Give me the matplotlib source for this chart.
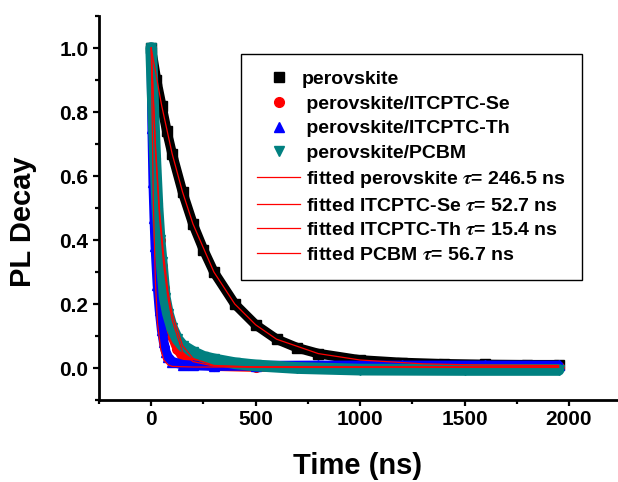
import numpy as np
import matplotlib
matplotlib.use("Agg")
import matplotlib.pyplot as plt
from matplotlib.ticker import MultipleLocator

# PL decay (time in ns, normalised intensity)
t_pero = [0, 25, 50, 75, 100, 150, 200, 250, 300, 400, 500, 600, 700, 800, 1000, 1200, 1400, 1600, 1800, 1950]
pl_pero = [1.0, 0.90, 0.82, 0.74, 0.67, 0.55, 0.45, 0.37, 0.30, 0.20, 0.135, 0.09, 0.063, 0.045, 0.025, 0.017, 0.013, 0.011, 0.010, 0.010]

t_se = [0, 10, 20, 30, 40, 50, 60, 80, 100, 125, 150, 200, 300, 500, 1000, 1500, 1950]
pl_se = [1.0, 0.78, 0.62, 0.50, 0.40, 0.32, 0.25, 0.16, 0.10, 0.06, 0.035, 0.015, 0.006, 0.003, 0.002, 0.002, 0.002]

t_th = [0, 5, 10, 15, 20, 30, 40, 50, 60, 70, 80, 100, 150, 200, 300, 500, 800, 1200, 1600, 1950]
pl_th = [1.0, 0.75, 0.58, 0.47, 0.38, 0.26, 0.18, 0.12, 0.08, 0.05, 0.035, 0.02, 0.01, 0.008, 0.006, 0.007, 0.008, 0.008, 0.008, 0.008]

t_pcbm = [0, 10, 20, 30, 40, 50, 65, 80, 100, 125, 150, 200, 250, 300, 400, 500, 700, 1000, 1500, 1950]
pl_pcbm = [1.0, 0.80, 0.64, 0.50, 0.40, 0.33, 0.22, 0.17, 0.125, 0.09, 0.07, 0.05, 0.035, 0.027, 0.015, 0.008, 0.0, -0.005, -0.006, -0.006]

# fitted curves (red lines)
t_fit_pero = [0, 50, 100, 150, 200, 300, 400, 500, 600, 800, 1000, 1300, 1600, 1950]
fit_pero = [1.0, 0.82, 0.67, 0.55, 0.45, 0.30, 0.20, 0.135, 0.09, 0.045, 0.025, 0.013, 0.009, 0.008]
t_fit_se = [0, 20, 40, 60, 80, 100, 150, 200, 300, 500, 1950]
fit_se = [1.0, 0.68, 0.47, 0.32, 0.22, 0.15, 0.05, 0.02, 0.006, 0.003, 0.003]
t_fit_th = [0, 10, 20, 30, 45, 60, 80, 100, 200, 1950]
fit_th = [1.0, 0.52, 0.27, 0.14, 0.06, 0.025, 0.01, 0.005, 0.003, 0.003]
t_fit_pcbm = [0, 20, 40, 60, 80, 100, 150, 200, 300, 500, 1950]
fit_pcbm = [1.0, 0.70, 0.49, 0.35, 0.24, 0.17, 0.07, 0.03, 0.008, 0.003, 0.003]

plt.rcParams["font.family"] = ["Liberation Sans", "DejaVu Sans"]
plt.rcParams["font.weight"] = "bold"
plt.rcParams["mathtext.fontset"] = "stix"

fig = plt.figure(figsize=(6.18, 4.82), dpi=100)
ax = fig.add_axes([99 / 618, 82 / 482, 518 / 618, 384 / 482])

# data drawn as thick bands (dense points in the original) plus markers
series = [
    (t_pero, pl_pero, "black", "s", "perovskite", 7),
    (t_se, pl_se, "red", "o", " perovskite/ITCPTC-Se", 7),
    (t_th, pl_th, "blue", "^", " perovskite/ITCPTC-Th", 7),
    (t_pcbm, pl_pcbm, "#008080", "v", " perovskite/PCBM", 8.5),
]
for t, v, c, m, lab, w in series:
    ax.plot(t, v, color=c, lw=w, solid_capstyle="round", solid_joinstyle="round")
    ax.plot(t, v, ls="none", marker=m, color=c, ms=7, label=lab)

fits = [
    (t_fit_pero, fit_pero, " fitted perovskite $\\tau$= 246.5 ns"),
    (t_fit_se, fit_se, " fitted ITCPTC-Se $\\tau$= 52.7 ns"),
    (t_fit_th, fit_th, " fitted ITCPTC-Th $\\tau$= 15.4 ns"),
    (t_fit_pcbm, fit_pcbm, " fitted PCBM $\\tau$= 56.7 ns"),
]
for t, v, lab in fits:
    ax.plot(t, v, color="red", lw=0.9, label=lab)

ax.set_xlim(-250, 2230)
ax.set_ylim(-0.1, 1.1)
ax.xaxis.set_minor_locator(MultipleLocator(250))
ax.yaxis.set_minor_locator(MultipleLocator(0.1))
ax.set_xticks([0, 500, 1000, 1500, 2000])
ax.set_yticks([0.0, 0.2, 0.4, 0.6, 0.8, 1.0])
ax.yaxis.set_major_formatter(plt.FormatStrFormatter("%.1f"))

for s in ["top", "right"]:
    ax.spines[s].set_visible(False)
for s in ["left", "bottom"]:
    ax.spines[s].set_linewidth(2.0)

ax.tick_params(which="major", direction="out", length=4.5, width=1.6, labelsize=15, pad=3)
ax.tick_params(which="minor", direction="out", length=3, width=1.6)

ax.set_xlabel("Time (ns)", fontsize=21, fontweight="bold")
ax.set_ylabel("PL Decay", fontsize=21, fontweight="bold")
ax.xaxis.set_label_coords(0.5, -0.135)
ax.yaxis.set_label_coords(-0.12, 0.4635)

leg = ax.legend(loc="upper left", bbox_to_anchor=(0.274, 0.901), borderaxespad=0,
                fontsize=14, numpoints=1, handlelength=2.2, handletextpad=0.05,
                labelspacing=0.36, borderpad=0.85, fancybox=False, framealpha=1,
                edgecolor="black")
leg.get_frame().set_linewidth(1.0)

fig.savefig("out.png", dpi=100)
